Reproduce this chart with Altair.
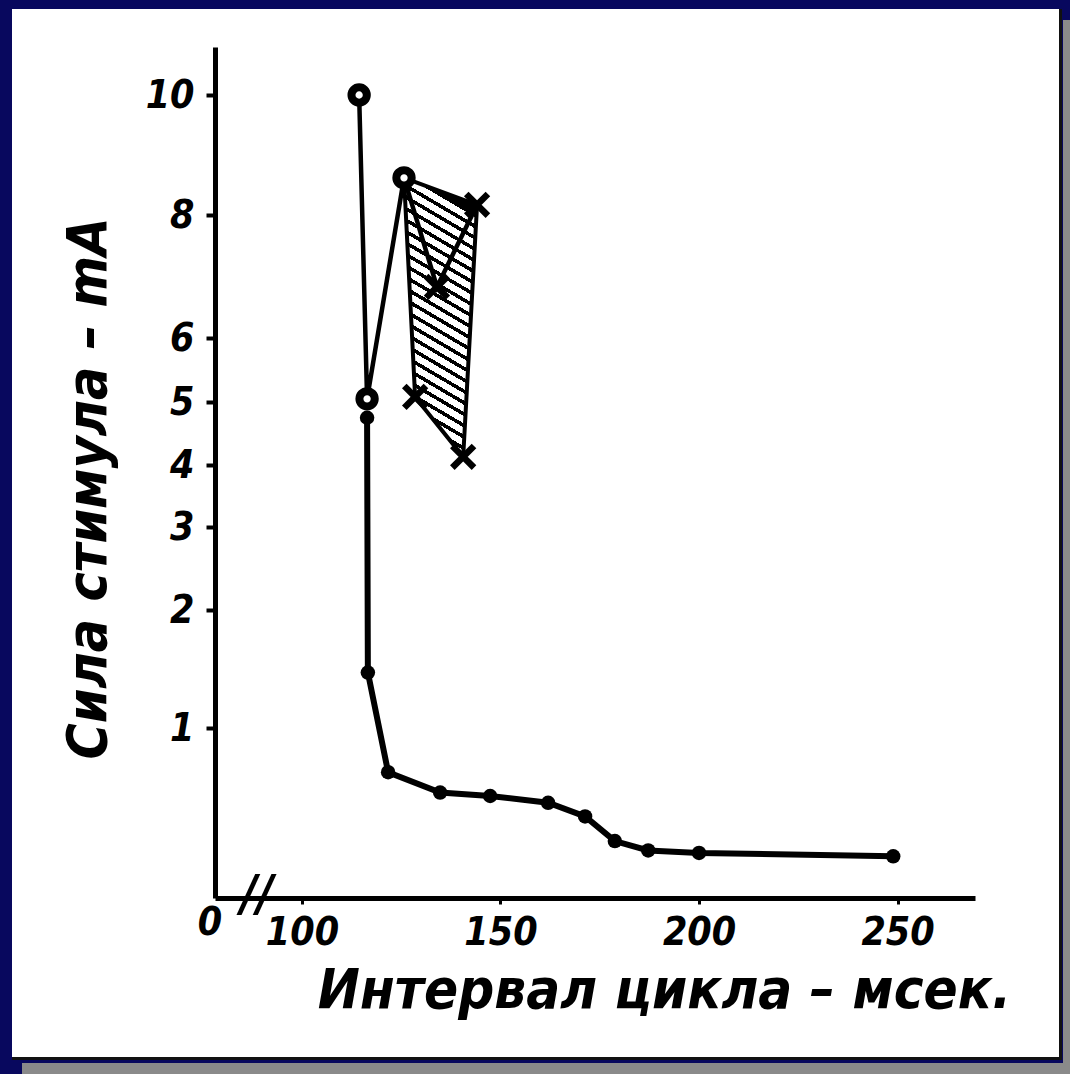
import altair as alt
import pandas as pd

# ---------------- data ----------------
open_x = [114.4, 116.4, 125.7]          # open circles, joined in this order
open_y = [10.0, 5.05, 8.62]
dot_x = [116.4, 116.6, 121.7, 134.8, 147.4, 162.0, 171.3, 178.8, 187.2, 200.0, 248.9]
dot_y = [4.75, 1.47, 0.74, 0.62, 0.60, 0.56, 0.48, 0.335, 0.28, 0.265, 0.245]
cross_x = [128.5, 134.0, 144.1, 140.6]  # x-marks
cross_y = [5.08, 6.83, 8.17, 4.13]
vee_x = [125.7, 134.0, 144.1]           # line circle -> middle x -> upper-right x
vee_y = [8.62, 6.83, 8.17]
hatch_x = [125.7, 144.1, 140.6, 128.5]  # hatched zone corners
hatch_y = [8.62, 8.17, 4.13, 5.08]
x_ticks = [100, 150, 200, 250]
y_ticks = [1, 2, 3, 4, 5, 6, 8, 10]
# the hand drawn value axis is not uniform: piecewise scale
y_dom = [0, 1, 2, 3, 4, 5, 6, 8, 10, 10.8]
y_rng = [851, 681, 563, 480, 418, 355, 291, 168, 48, 0]
x_dom = [78.1, 269.5]

FONT = "Liberation Sans Narrow, DejaVu Sans Condensed, Liberation Sans, sans-serif"
NAVY = "#08085e"

open_df = pd.DataFrame({"x": open_x, "y": open_y, "o": range(len(open_x))})
dot_df = pd.DataFrame({"x": dot_x, "y": dot_y, "o": range(len(dot_x))})
cross_df = pd.DataFrame({"x": cross_x, "y": cross_y})
vee_df = pd.DataFrame({"x": vee_x, "y": vee_y, "o": range(len(vee_x))})
hatch_df = pd.DataFrame({"x": hatch_x, "y": hatch_y, "o": range(len(hatch_x))})

xs = alt.Scale(domain=x_dom, nice=False, zero=False)
ys = alt.Scale(domain=y_dom, range=y_rng, nice=False, zero=False)

x_axis = alt.Axis(
    values=x_ticks, grid=False, zindex=1,
    domainColor="black", domainWidth=5, tickColor="black", tickWidth=3, tickSize=6,
    labelFont=FONT, labelFontSize=39, labelFontWeight="bold", labelFontStyle="italic",
    labelColor="black", labelPadding=9, labelOverlap=False,
    title="Интервал цикла – мсек.", titleFont=FONT, titleFontSize=56,
    titleFontWeight="bold", titleFontStyle="italic", titleColor="black",
    titleX=449, titleY=92, titleAlign="center", titleBaseline="middle",
)
y_axis = alt.Axis(
    values=y_ticks, format="d", grid=False, zindex=1,
    domainColor="black", domainWidth=5, tickColor="black", tickWidth=4, tickSize=9,
    labelFont=FONT, labelFontSize=39, labelFontWeight="bold", labelFontStyle="italic",
    labelColor="black", labelPadding=12, labelOverlap=False,
    title="Сила стимула – mA", titleFont=FONT, titleFontSize=55,
    titleFontWeight="bold", titleFontStyle="italic", titleColor="black",
    titleAngle=270, titleX=-127, titleY=441, titleAlign="center", titleBaseline="middle",
)

X = alt.X("x:Q", scale=xs, axis=x_axis)
Y = alt.Y("y:Q", scale=ys, axis=y_axis)
Xn = alt.X("x:Q", scale=xs)
Yn = alt.Y("y:Q", scale=ys)

one = alt.Data(values=[{"k": 1}])


def frame(x1, x2, y1, y2, color):
    return alt.Chart(one).mark_rect(color=color).encode(
        x=alt.value(x1), x2=alt.value(x2), y=alt.value(y1), y2=alt.value(y2)
    )


# page frame (plot origin at page 215,47)
shadow = frame(-193, 855, -27, 1027, "#8a8a8a")
navy_cover = frame(-215, 848, -47, 1016, NAVY)
black_edge = frame(-203, 847, -38, 1013, "#111111")
paper = frame(-203, 844, -38, 1010, "white")

# hatching as striped gradient
N = 25
stops = []
for i in range(N):
    a, b, c = i / N, (i + 0.64) / N, (i + 1) / N
    stops += [alt.GradientStop(offset=a, color="white"), alt.GradientStop(offset=b, color="white"),
              alt.GradientStop(offset=b, color="black"), alt.GradientStop(offset=c, color="black")]
hatch_fill = alt.LinearGradient(gradient="linear", x1=0, y1=1, x2=0.154, y2=0, stops=stops)

hatch = alt.Chart(hatch_df).mark_line(
    fill=hatch_fill, stroke="black", strokeWidth=4, interpolate="linear-closed"
).encode(x=X, y=Y, order="o:Q")

vee = alt.Chart(vee_df).mark_line(color="black", strokeWidth=4.5).encode(x=Xn, y=Yn, order="o:Q")
open_line = alt.Chart(open_df).mark_line(color="black", strokeWidth=4.5).encode(x=Xn, y=Yn, order="o:Q")
dot_line = alt.Chart(dot_df).mark_line(color="black", strokeWidth=6).encode(x=Xn, y=Yn, order="o:Q")

dots = alt.Chart(dot_df).mark_point(
    shape="circle", filled=True, color="black", size=210, opacity=1
).encode(x=Xn, y=Yn)
circles = alt.Chart(open_df).mark_point(
    shape="circle", fill="white", stroke="black", strokeWidth=8, size=235, opacity=1, fillOpacity=1
).encode(x=Xn, y=Yn)
crosses = alt.Chart(cross_df).mark_point(
    shape="M-1,-1L1,1M-1,1L1,-1", filled=False, stroke="black", strokeWidth=6.5, size=470, opacity=1
).encode(x=Xn, y=Yn)

zero_lbl = alt.Chart(alt.Data(values=[{"x": 76.8, "y": 0, "t": "0"}])).mark_text(
    font=FONT, fontSize=39, fontWeight="bold", fontStyle="italic", color="black",
    baseline="middle", align="center", dy=25
).encode(x=Xn, y=Yn, text="t:N")
brk = alt.Chart(alt.Data(values=[{"x": 88.7, "y": 0, "t": "//"}])).mark_text(
    font=FONT, fontSize=50, fontWeight="bold", fontStyle="italic", color="black",
    baseline="middle", align="center", dy=-3
).encode(x=Xn, y=Yn, text="t:N")

chart = alt.layer(
    shadow, navy_cover, black_edge, paper,
    hatch, vee, open_line, dot_line, dots, circles, crosses, zero_lbl, brk
).properties(
    width=760, height=851,
    autosize=alt.AutoSizeParams(type="none"),
    padding={"left": 215, "top": 47, "right": 95, "bottom": 176},
    background=NAVY,
).configure_view(stroke=None)

chart.save("out.html", embed_options={"renderer": "svg", "actions": False})
